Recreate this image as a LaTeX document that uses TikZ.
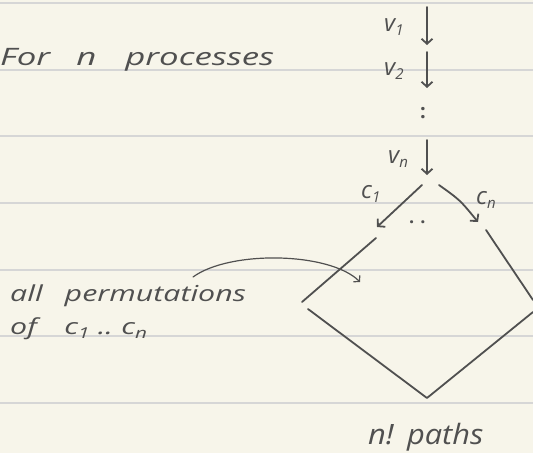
\documentclass[tikz,border=0pt]{standalone}
\usepackage{fontspec}
\setmainfont{Open Sans}
\usetikzlibrary{arrows.meta}
\definecolor{paper}{HTML}{F7F5EA}
\definecolor{rulecol}{HTML}{D6D6D6}
\definecolor{pen}{HTML}{505050}
\newcommand{\hwsub}[2]{#1\raisebox{-0.2em}{\fontsize{15}{15}\selectfont #2}}
\begin{document}
\begin{tikzpicture}[x=1pt,y=-1pt,
 penline/.style={draw=pen, line width=1.8pt, line cap=round, line join=round},
 hw/.style={text=pen, inner sep=0pt, anchor=base west},
 arr/.style={penline, -{Straight Barb[length=5pt,width=11pt]}}]
\fill[paper] (0,0) rectangle (533,453);
\useasboundingbox (0,0) rectangle (533,453);
\foreach \y in {3,70,136,203,270,336,403} \draw[rulecol, line width=1.5pt] (0,\y) -- (533,\y);
% title
\node[hw, font=\itshape\fontsize{24}{24}\selectfont] (title) at (0,65) {\scalebox{1.45}[1]{For\hspace{18pt}n\hspace{20pt}processes}};
% v labels and arrows
\node[hw, font=\itshape\fontsize{24}{24}\selectfont] (v1) at (384,31) {\hwsub{v}{1}};
\node[hw, font=\itshape\fontsize{24}{24}\selectfont] (v2) at (384,75) {\hwsub{v}{2}};
\node[hw, font=\itshape\fontsize{24}{24}\selectfont] (vn) at (388,163) {\hwsub{v}{n}};
\node[hw, font=\bfseries\fontsize{20}{20}\selectfont] (vdots) at (420,118) {:};
\coordinate (a1) at (427,7);  \coordinate (b1) at (427,45);
\coordinate (a2) at (427,52); \coordinate (b2) at (427,88);
\coordinate (an) at (427,140);\coordinate (bn) at (427,175);
\draw[arr] (a1) -- (b1);
\draw[arr] (a2) -- (b2);
\draw[arr] (an) -- (bn);
% c branches
\node[hw, font=\itshape\fontsize{24}{24}\selectfont] (c1) at (361,198) {\hwsub{c}{1}};
\node[hw, font=\itshape\fontsize{24}{24}\selectfont] (cn) at (476,204) {\hwsub{c}{n}};
\node[hw, font=\bfseries\fontsize{18}{18}\selectfont] (cdots) at (409,223) {.\hspace{6pt}.};
\coordinate (c1s) at (422,185); \coordinate (c1e) at (377,227);
\coordinate (cns) at (439,185); \coordinate (cne) at (478,222);
\draw[arr] (c1s) -- (c1e);
\draw[arr] (cns) .. controls (460,200) .. (cne);
% diamond
\coordinate (d1) at (376,238); \coordinate (d2) at (302,302);
\coordinate (d3) at (308,309); \coordinate (d4) at (427,398); \coordinate (d5) at (533,312);
\coordinate (d6) at (486,230); \coordinate (d7) at (533,300);
\draw[penline] (d1) -- (d2);
\draw[penline] (d3) -- (d4) -- (d5);
\draw[penline] (d6) -- (d7);
% annotation
\node[hw, font=\itshape\fontsize{22}{22}\selectfont] (perm) at (10,301) {\scalebox{1.38}[1]{all\hspace{16pt}permutations}};
\node[hw, font=\itshape\fontsize{22}{22}\selectfont] (of) at (10,334) {\scalebox{1.38}[1]{of\hspace{20pt}\hwsub{c}{1}\hspace{6pt}..\hspace{6pt}\hwsub{c}{n}}};
\coordinate (ps) at (193,277); \coordinate (pe) at (360,282);
\draw[penline, line width=1.2pt, -{Straight Barb[length=4pt,width=9pt]}] (ps) .. controls (230,250) and (330,252) .. (pe);
\node[hw, font=\itshape\fontsize{28}{28}\selectfont] (paths) at (368,444) {\scalebox{1.1}[1]{n!\hspace{12pt}paths}};
\end{tikzpicture}
\end{document}
